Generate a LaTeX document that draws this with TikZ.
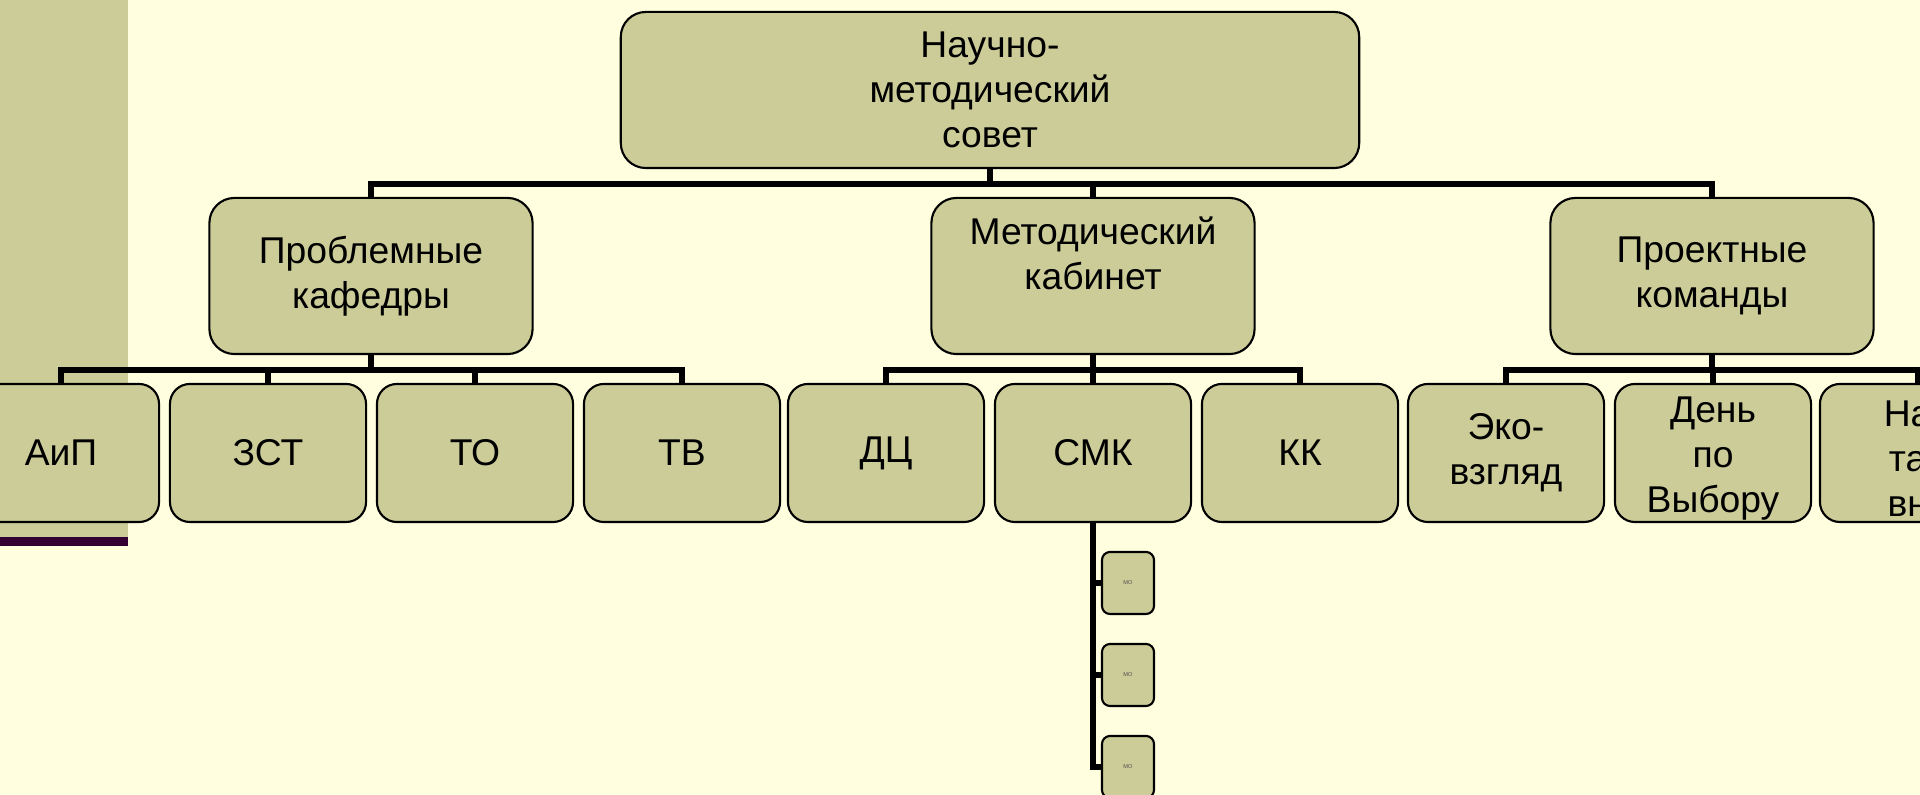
\documentclass[tikz,border=0pt]{standalone}
\usepackage{fontspec}
\setmainfont{Liberation Sans}
\usetikzlibrary{positioning}
\definecolor{SlideYellow}{HTML}{FFFFE0}
\definecolor{BoxOlive}{HTML}{CCCC99}
\definecolor{BarPurple}{HTML}{330033}
\begin{document}
\begin{tikzpicture}[x=0.01cm,y=-0.01cm,
    box/.style={draw,line width=0.6pt,fill=BoxOlive,align=center,inner sep=0pt},
    unit/.style={box,rounded corners=2.5mm,minimum width=3.23cm,minimum height=1.56cm},
    leaf/.style={box,rounded corners=2mm,minimum width=1.96cm,minimum height=1.38cm},
    mo/.style={box,rounded corners=0.8mm,minimum width=0.52cm,minimum height=0.62cm,
      text=black!70,font=\fontsize{1.6pt}{2pt}\selectfont},
    link/.style={line width=1.7pt},
    sublink/.style={line width=1.7pt}]
  \fontsize{10.6pt}{12.8pt}\selectfont
  % slide background
  \fill[SlideYellow] (0,0) rectangle (1920,795);
  \useasboundingbox (0,0) rectangle (1920,795);
  \fill[BoxOlive] (0,0) rectangle (128,537);
  \fill[BarPurple] (0,537) rectangle (128,546);

  % top
  \node[unit,minimum width=7.38cm] (nms) at (990,90) {Научно-\\методический\\совет};
  \node[unit] (kaf) at (371,276) {Проблемные\\кафедры};
  \node[unit] (kab) at (1093,276) {Методический\\кабинет\\~};
  \node[unit] (kom) at (1712,276) {Проектные\\команды};

  % leaves
  \node[leaf] (aip) at (61,453) {АиП};
  \node[leaf] (zst) at (268,453) {ЗСТ};
  \node[leaf] (to) at (475,453) {ТО};
  \node[leaf] (tv) at (682,453) {ТВ};
  \node[leaf] (dc) at (886,453) {ДЦ};
  \node[leaf] (smk) at (1093,453) {СМК};
  \node[leaf] (kk) at (1300,453) {КК};
  \node[leaf] (eko) at (1506,453) {Эко-\\взгляд};
  \node[leaf] (den) at (1713,453) {\rule{0pt}{10.5pt}День\\по\\Выбору};
  \node[leaf] (nat) at (1918,453) {\rule{0pt}{10.5pt}На\hphantom{а}\\та\hphantom{а}\\вн\hphantom{н}};

  % МО under СМК
  \node[mo] (mo1) at (1128,583) {МО};
  \node[mo] (mo2) at (1128,675) {МО};
  \node[mo] (mo3) at (1128,767) {МО};

  % connectors
  \coordinate (topbus) at (990,184);
  \coordinate (kafbus) at (371,370);
  \coordinate (kabbus) at (1093,370);
  \coordinate (kombus) at (1712,370);
  \draw[link] (nms.south) -- (topbus);
  \draw[link] (kaf.north) |- (topbus) -| (kom.north);
  \draw[link] (kab.north) -- (kab.north |- topbus);

  \draw[link] (kaf.south) -- (kafbus);
  \draw[link] (aip.north) |- (kafbus) -| (tv.north);
  \draw[link] (zst.north) -- (zst.north |- kafbus);
  \draw[link] (to.north) -- (to.north |- kafbus);

  \draw[link] (kab.south) -- (kabbus);
  \draw[link] (dc.north) |- (kabbus) -| (kk.north);
  \draw[link] (smk.north) -- (kabbus);

  \draw[link] (kom.south) -- (kombus);
  \draw[link] (eko.north) |- (kombus) -| (nat.north);
  \draw[link] (den.north) -- (den.north |- kombus);

  \draw[sublink] (smk.south) |- (mo3.west);
  \draw[sublink] (smk.south |- mo1.west) -- (mo1.west);
  \draw[sublink] (smk.south |- mo2.west) -- (mo2.west);
\end{tikzpicture}
\end{document}
